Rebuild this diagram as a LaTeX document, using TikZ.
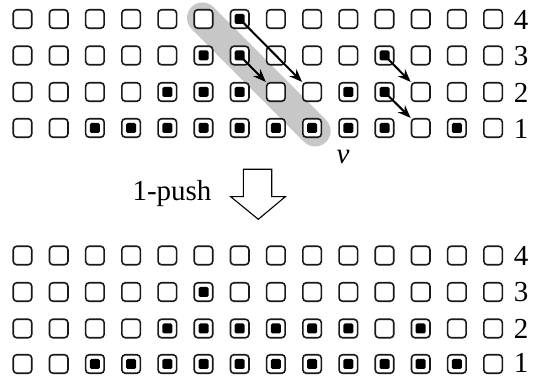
\documentclass[tikz,border=0pt]{standalone}
\usepackage{fontspec}
\setmainfont{Liberation Serif}
\usetikzlibrary{arrows.meta}
\begin{document}
\begin{tikzpicture}[x=1pt,y=-1pt,
  cell/.style={draw=black!90,line width=1.6pt,rounded corners=3.5pt,minimum size=18.5pt,inner sep=0pt,fill=white},
  dot/.style={fill=black,rounded corners=1.5pt,minimum size=10pt,inner sep=0pt},
  lab/.style={font=\fontsize{29}{32}\selectfont,inner sep=0pt},
  mv/.style={line width=2pt,-{Stealth[length=13pt,width=10pt]}},
  band/.style={line width=31pt,line cap=round,draw=black!22}]
\useasboundingbox (0,0) rectangle (533,379);
\foreach \r/\yy in {4/19,3/55.5,2/92,1/128}{
  \foreach \c in {1,...,14}{
    \coordinate (tp-\c-\r) at ({22.5+(\c-1)*36.2},\yy);
  }
}
\foreach \r/\yy in {4/255.5,3/292,2/328.5,1/364}{
  \foreach \c in {1,...,14}{
    \coordinate (bp-\c-\r) at ({22.5+(\c-1)*36.2},\yy);
  }
}
\draw[band] ([shift={(-1,-1)}]tp-6-4) -- ([shift={(3,3)}]tp-9-1);
\foreach \r in {1,...,4}{
  \foreach \c in {1,...,14}{
    \node[cell] (t-\c-\r) at (tp-\c-\r) {};
    \node[cell] (b-\c-\r) at (bp-\c-\r) {};
  }
}
\foreach \c/\r in {7/4, 6/3,7/3,11/3, 5/2,6/2,7/2,10/2,11/2,
  3/1,4/1,5/1,6/1,7/1,8/1,9/1,10/1,11/1,13/1}{
  \node[dot] (td-\c-\r) at (t-\c-\r) {};
}
\foreach \c/\r in {6/3, 5/2,6/2,7/2,8/2,9/2,10/2,12/2,
  3/1,4/1,5/1,6/1,7/1,8/1,9/1,10/1,11/1,12/1,13/1}{
  \node[dot] (bd-\c-\r) at (b-\c-\r) {};
}
\draw[mv] (t-7-4.center) -- (t-9-2.north west);
\draw[mv] (t-7-3.center) -- (t-8-2.north west);
\draw[mv] (t-11-3.center) -- (t-12-2.north west);
\draw[mv] (t-11-2.center) -- (t-12-1.north west);
\foreach \r/\yy in {4/19,3/55.5,2/92,1/128}{
  \node[lab] (tl-\r) at (521,\yy+1) {\r};
}
\foreach \r/\yy in {4/255.5,3/292,2/328.5,1/362.5}{
  \node[lab] (bl-\r) at (521,\yy) {\r};
}
\node[lab] (v) at (343,157) {\itshape v};
\node[lab,anchor=base] (push) at (172,201) {1-push};
\draw[line width=1.1pt,line join=miter,fill=white] (243.3,169.3) -- (271.7,169.3) -- (271.7,196.7) -- (285.3,196.7) -- (258.3,219.3) -- (230.7,196.7) -- (243.3,196.7) -- cycle;
\end{tikzpicture}
\end{document}
